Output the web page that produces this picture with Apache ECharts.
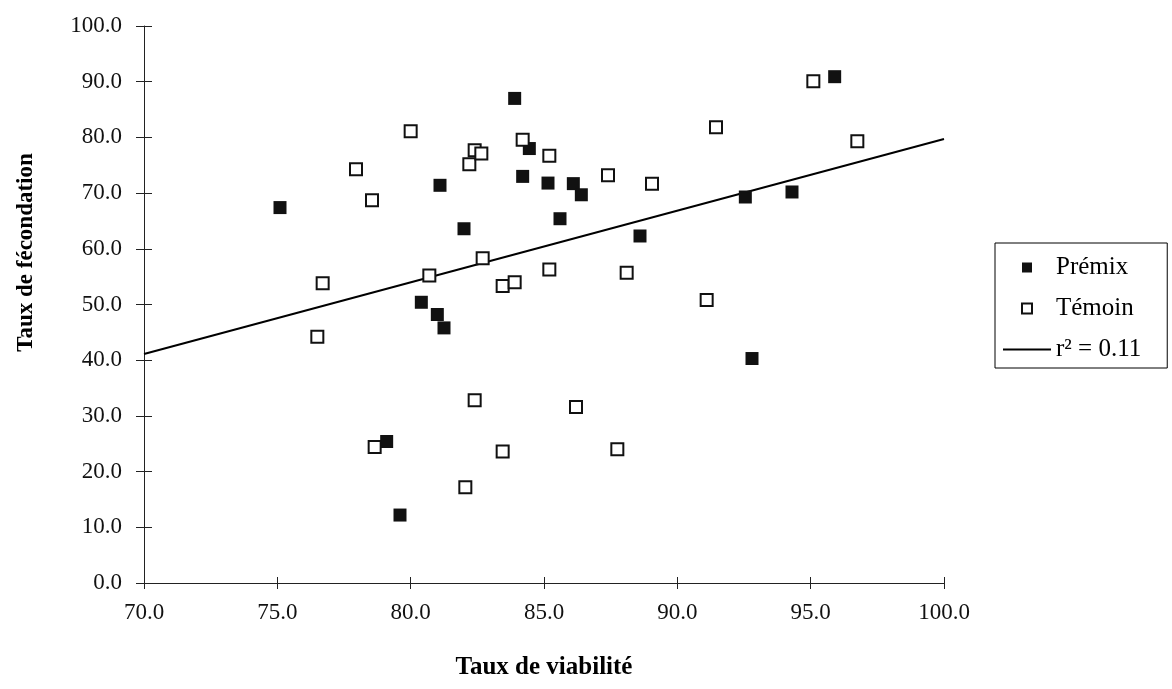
<!DOCTYPE html>
<html>
<head>
<meta charset="utf-8">
<script src="https://cdn.jsdelivr.net/npm/echarts@6/dist/echarts.min.js"></script>
<style>
  html, body { margin: 0; padding: 0; background: #fff; }
  #main { width: 1172px; height: 689px; }
</style>
</head>
<body>
<div id="main"></div>
<script>
// Prémix (filled squares): [viabilité, fécondation]
const premix = [
  [75.1, 67.4], [79.1, 25.4], [79.6, 12.2], [80.4, 50.4], [81.0, 48.2],
  [81.25, 45.8], [81.1, 71.4], [82.0, 63.6], [83.9, 87.0], [84.2, 73.0],
  [84.45, 78.0], [85.15, 71.8], [86.1, 71.7], [86.4, 69.7], [85.6, 65.4],
  [88.6, 62.3], [92.55, 69.3], [92.8, 40.3], [94.3, 70.2], [95.9, 90.9]
];

// Témoin (open squares)
const temoin = [
  [76.5, 44.2], [76.7, 53.8], [77.95, 74.3], [78.55, 68.7], [78.65, 24.4],
  [80.0, 81.1], [80.7, 55.2], [82.05, 17.2], [82.2, 75.2], [82.4, 32.8],
  [82.4, 77.7], [82.65, 77.1], [82.7, 58.3], [83.45, 53.3], [83.45, 23.6],
  [83.9, 54.0], [84.2, 79.6], [85.2, 76.7], [85.2, 56.3], [86.2, 31.6],
  [87.4, 73.2], [87.75, 24.0], [88.1, 55.7], [89.05, 71.7], [91.1, 50.8],
  [91.45, 81.8], [95.1, 90.1], [96.75, 79.3]
];

// linear trend line end points, r² = 0.11
const trend = [[70, 41.1], [100, 79.7]];

const seriesNames = ["Prémix", "Témoin", "r² = 0.11"];
const xTitle = "Taux de viabilité";
const yTitle = "Taux de fécondation";

const font = "Liberation Serif";
const squareIcon = "path://M0,0H10V10H0Z";
const lineIcon = "path://M0,0H48V2H0Z";

var chartDom = document.getElementById("main");
var myChart = echarts.init(chartDom);
var option;

// second pair of axes only draws the inner half of the crossing ticks
const plotHeight = 689 - 26 - 106;
const plotWidth = 1172 - 144 - 228;

option = {
  backgroundColor: "#ffffff",
  animation: false,
  grid: {
    left: 144,
    right: 228,
    top: 26,
    bottom: 106,
    containLabel: false,
  },
  legend: {
    orient: "vertical",
    left: 995,
    top: 243,
    padding: [12, 26, 6, 8],
    itemGap: 16,
    itemWidth: 48,
    itemHeight: 10,
    borderColor: "#000",
    borderWidth: 1,
    textStyle: { fontFamily: font, fontSize: 25, color: "#000" },
    data: [
      { name: seriesNames[0], icon: squareIcon },
      { name: seriesNames[1], icon: squareIcon },
      { name: seriesNames[2], icon: lineIcon },
    ],
  },
  xAxis: [
    {
      type: "value",
      min: 70,
      max: 100,
      interval: 5,
      position: "bottom",
      name: xTitle,
      nameLocation: "middle",
      nameGap: 72,
      nameTextStyle: { fontFamily: font, fontSize: 25, fontWeight: "bold", color: "#000" },
      axisLine: { lineStyle: { color: "#222", width: 1 } },
      axisTick: { show: true, length: 6, lineStyle: { color: "#222" } },
      axisLabel: {
        fontFamily: font,
        fontSize: 23,
        color: "#111",
        margin: 18,
        formatter: (v) => v.toFixed(1),
      },
      splitLine: { show: false },
    },
    {
      type: "value",
      min: 70,
      max: 100,
      interval: 5,
      position: "top",
      offset: -plotHeight,
      axisLine: { show: false },
      axisTick: { show: true, length: 6, lineStyle: { color: "#222" } },
      axisLabel: { show: false },
      splitLine: { show: false },
    },
  ],
  yAxis: [
    {
      type: "value",
      min: 0,
      max: 100,
      interval: 10,
      position: "left",
      name: yTitle,
      nameLocation: "middle",
      nameGap: 106,
      nameTextStyle: {
        fontFamily: font,
        fontSize: 23,
        fontWeight: "bold",
        color: "#000",
        padding: [0, 0, 0, 104],
      },
      axisLine: { show: true, lineStyle: { color: "#222", width: 1 } },
      axisTick: { show: true, length: 8, lineStyle: { color: "#222" } },
      axisLabel: {
        fontFamily: font,
        fontSize: 23,
        color: "#111",
        margin: 22,
        formatter: (v) => v.toFixed(1),
      },
      splitLine: { show: false },
    },
    {
      type: "value",
      min: 0,
      max: 100,
      interval: 10,
      position: "right",
      offset: -plotWidth,
      axisLine: { show: false },
      axisTick: { show: true, length: 8, lineStyle: { color: "#222" } },
      axisLabel: { show: false },
      splitLine: { show: false },
    },
  ],
  series: [
    {
      name: seriesNames[0],
      type: "scatter",
      data: premix,
      symbol: "rect",
      symbolSize: 13,
      itemStyle: { color: "#111", opacity: 1 },
      z: 3,
    },
    {
      name: seriesNames[1],
      type: "scatter",
      data: temoin,
      symbol: "rect",
      symbolSize: 12,
      itemStyle: { color: "#fff", borderColor: "#111", borderWidth: 2, opacity: 1 },
      z: 3,
    },
    {
      name: seriesNames[2],
      type: "line",
      data: trend,
      symbol: "none",
      showSymbol: false,
      itemStyle: { color: "#000" },
      lineStyle: { color: "#000", width: 2 },
      z: 2,
    },
  ],
};

option && myChart.setOption(option);
</script>
</body>
</html>
